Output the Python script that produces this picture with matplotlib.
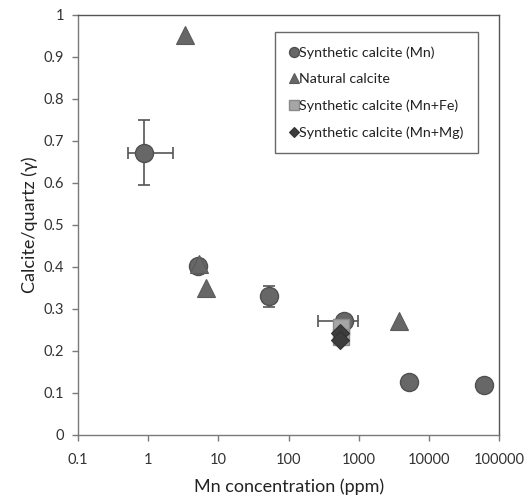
import matplotlib
matplotlib.use("Agg")
import matplotlib.pyplot as plt
from matplotlib.ticker import FixedLocator, FixedFormatter, NullLocator

plt.rcParams['font.family'] = ['Lato', 'DejaVu Sans']

# Synthetic calcite (Mn)
mn_x = [0.88, 5.2, 52, 610, 5200, 61000]
mn_y = [0.672, 0.403, 0.330, 0.272, 0.126, 0.118]
mn_yerr = [0.077, 0.0, 0.025, 0.0, 0.0, 0.0]
mn_xerr_lo = [0.36, 0.0, 0.0, 350, 0.0, 0.0]
mn_xerr_hi = [1.39, 0.0, 0.0, 360, 0.0, 0.0]

# Natural calcite
nat_x = [3.4, 5.3, 6.7, 3700]
nat_y = [0.953, 0.408, 0.350, 0.272]

# Synthetic calcite (Mn+Fe)
fe_x = [560, 560]
fe_y = [0.258, 0.232]

# Synthetic calcite (Mn+Mg)
mg_x = [545, 545]
mg_y = [0.243, 0.226]

xticks = [0.1, 1, 10, 100, 1000, 10000, 100000]
xticklabels = ['0.1', '1', '10', '100', '1000', '10000', '100000']
yticks = [0, 0.1, 0.2, 0.3, 0.4, 0.5, 0.6, 0.7, 0.8, 0.9, 1.0]
yticklabels = ['0', '0.1', '0.2', '0.3', '0.4', '0.5', '0.6', '0.7', '0.8', '0.9', '1']

fig = plt.figure(figsize=(5.30, 4.97), dpi=100)
ax = fig.add_axes([0.147, 0.125, 0.795, 0.845])
ax.set_xscale('log')
ax.set_xlim(0.1, 100000)
ax.set_ylim(0, 1)

ecol = '#555555'
ax.errorbar(mn_x, mn_y, yerr=mn_yerr, xerr=[mn_xerr_lo, mn_xerr_hi], fmt='none',
            ecolor=ecol, elinewidth=1.2, capsize=4, capthick=1.2, zorder=2)
h1, = ax.plot(mn_x, mn_y, 'o', ms=13, mfc='#676767', mec='#505050', mew=1.0,
              linestyle='none', zorder=3, label='Synthetic calcite (Mn)')
h2, = ax.plot(nat_x, nat_y, '^', ms=13, mfc='#676767', mec='#5a5a5a', mew=0.8,
              linestyle='none', zorder=4, label='Natural calcite')
h3, = ax.plot(fe_x, fe_y, 's', ms=12, mfc='#a6a6a6', mec='#8a8a8a', mew=1.0,
              linestyle='none', zorder=5, label='Synthetic calcite (Mn+Fe)')
h4, = ax.plot(mg_x, mg_y, 'D', ms=9, mfc='#3d3d3d', mec='#333333', mew=0.8,
              linestyle='none', zorder=6, label='Synthetic calcite (Mn+Mg)')

ax.xaxis.set_major_locator(FixedLocator(xticks))
ax.xaxis.set_major_formatter(FixedFormatter(xticklabels))
ax.xaxis.set_minor_locator(NullLocator())
ax.set_yticks(yticks)
ax.set_yticklabels(yticklabels)

for s in ['left', 'bottom']:
    ax.spines[s].set_color('#7a7a7a')
    ax.spines[s].set_linewidth(1.0)
for s in ['top', 'right']:
    ax.spines[s].set_color('#555555')
    ax.spines[s].set_linewidth(1.0)

ax.tick_params(axis='both', direction='out', length=4, width=1, color='#7a7a7a',
               labelsize=10.5, labelcolor='#333333')
ax.tick_params(axis='x', pad=9)
ax.tick_params(axis='y', pad=6)

ax.set_xlabel('Mn concentration (ppm)', fontsize=13, color='#222222', labelpad=8)
ax.set_ylabel('Calcite/quartz (\u03b3)', fontsize=13, color='#222222', labelpad=4)

leg = ax.legend(handles=[h1, h2, h3, h4], loc='upper right',
                bbox_to_anchor=(0.96, 0.969), fontsize=10.3, markerscale=0.55,
                handlelength=0.6, handletextpad=0.1, labelspacing=1.0,
                borderpad=1.0, borderaxespad=0.3, frameon=True, fancybox=False,
                edgecolor='#444444')
leg.get_frame().set_linewidth(1.0)
for t in leg.get_texts():
    t.set_color('#222222')

fig.savefig('out.png', dpi=100)
